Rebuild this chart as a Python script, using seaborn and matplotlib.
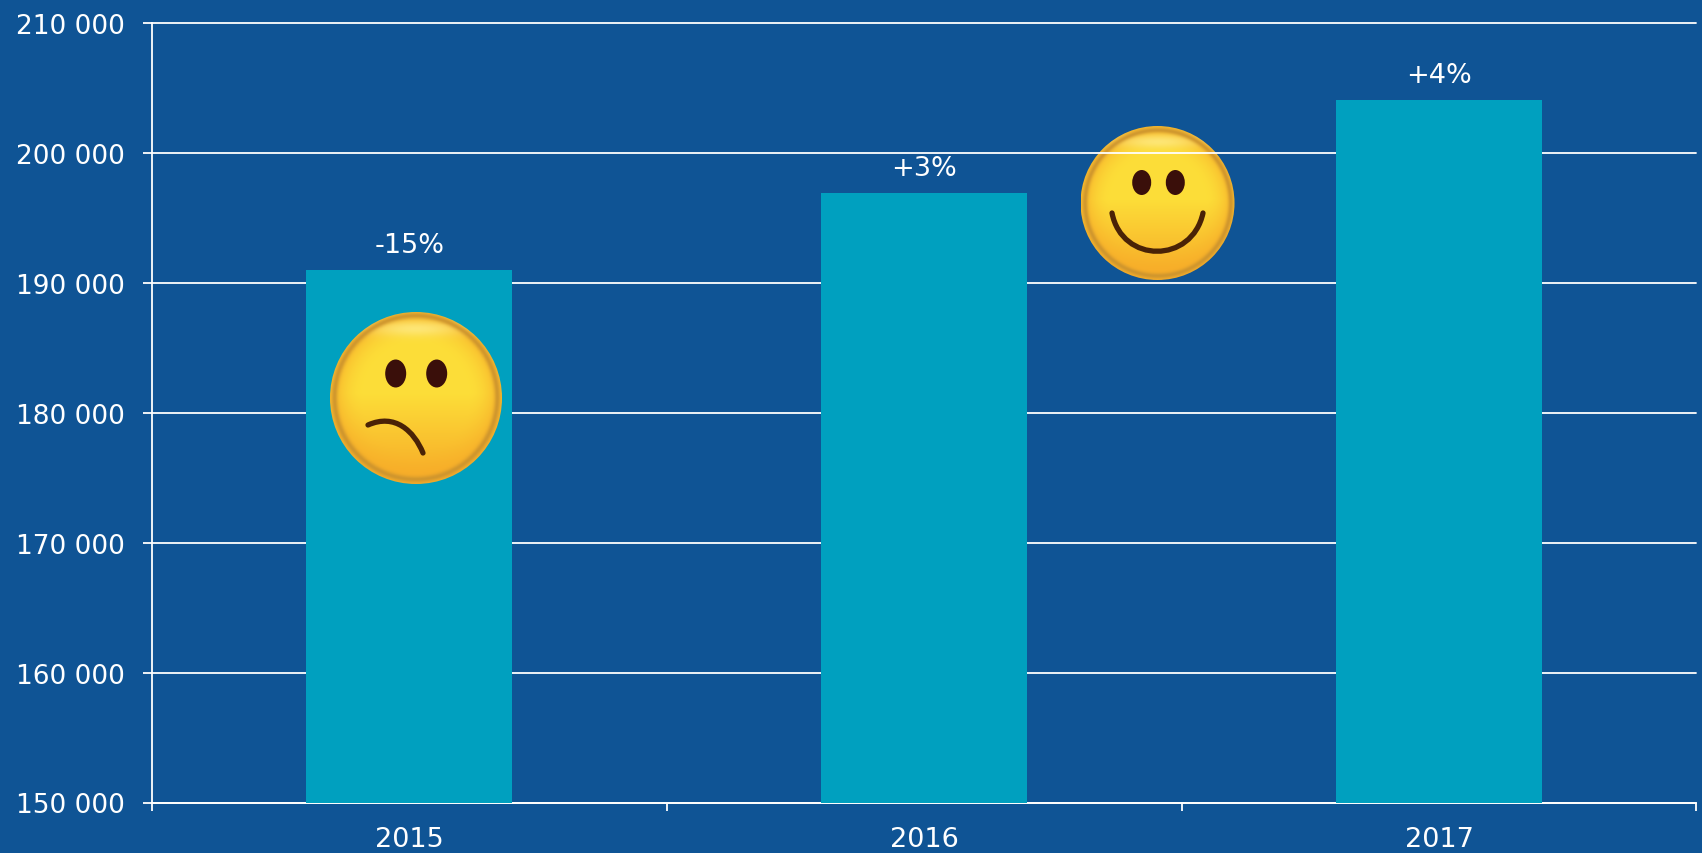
import numpy as np
import pandas as pd
import matplotlib.pyplot as plt
import seaborn as sns
from matplotlib.patches import Circle, Ellipse, PathPatch
from matplotlib.path import Path

years = ["2015", "2016", "2017"]
values = [191000, 196900, 204100]
changes = ["-15%", "+3%", "+4%"]
y_ticks = [150000, 160000, 170000, 180000, 190000, 200000, 210000]
y_tick_labels = ["150 000", "160 000", "170 000", "180 000", "190 000", "200 000", "210 000"]

BG = "#0F5495"
BAR = "#00A0BF"
W, H = 1702, 854


def dibujar_cara(ax_px, cx, cy, r, eyes, eye_w, eye_h, mouth_path):
    """Emoji dibujado en coordenadas de pixel de la figura."""
    n = 300
    yy, xx = np.mgrid[-1:1:n * 1j, -1:1:n * 1j]
    d = np.sqrt(xx ** 2 + yy ** 2)
    top = np.array([0.99, 0.87, 0.22])
    low = np.array([0.97, 0.68, 0.16])
    t = np.clip((yy + 0.05) / 0.95, 0, 1)[..., None]
    side = (np.clip((d - 0.6) / 0.35, 0, 1) ** 2)[..., None]
    rgb = top * (1 - t) + low * t
    rgb = rgb * (1 - side * 0.75) + low * side * 0.75
    # brillo suave arriba
    glow = np.exp(-((xx / 0.55) ** 2 + ((yy + 0.8) / 0.09) ** 2))[..., None]
    rgb = rgb * (1 - glow * 0.6) + np.array([1.0, 0.95, 0.62]) * glow * 0.6
    # borde: anillo mas oscuro que se funde hacia dentro
    rim = np.exp(-((d - 0.95) / 0.035) ** 2)[..., None]
    rgb = rgb * (1 - rim * 0.9) + np.array([0.80, 0.58, 0.18]) * rim * 0.9
    im = ax_px.imshow(rgb, extent=(cx - r, cx + r, cy + r, cy - r),
                      zorder=5, interpolation="bilinear", aspect="auto")
    im.set_clip_path(Circle((cx, cy), r, transform=ax_px.transData))
    for ex, ey in eyes:
        ax_px.add_patch(Ellipse((ex, ey), eye_w, eye_h, color="#3A0F0A", lw=0, zorder=7))
    ax_px.add_patch(PathPatch(mouth_path, fill=False, edgecolor="#4A2206", lw=3.8,
                              capstyle="round", zorder=7))


def capa_pixeles(zorder):
    capa = fig.add_axes([0, 0, 1, 1], facecolor="none", zorder=zorder)
    capa.set_axis_off()
    return capa


sns.set_theme(style="white")
plt.rcParams["font.family"] = ["DejaVu Sans"]

df = pd.DataFrame({"year": years, "value": values})

fig = plt.figure(figsize=(W / 100, H / 100), dpi=100, facecolor=BG)
ax = fig.add_axes([152 / W, 1 - 803.5 / H, (1696.5 - 152) / W, (803.5 - 24) / H],
                  facecolor="none", zorder=2)

sns.barplot(data=df, x="year", y="value", color=BAR, saturation=1, width=0.4,
            edgecolor="none", linewidth=0, ax=ax, zorder=3)

ax.set_xlim(-0.5, 2.5)
ax.set_ylim(150000, 210000)
ax.set_yticks(y_ticks)
ax.set_yticklabels(y_tick_labels)
ax.set_xlabel("")
ax.set_ylabel("")

ax.grid(axis="y", color="white", linewidth=1.3, zorder=1, clip_on=False)
ax.set_axisbelow(True)
for lado in ["top", "right"]:
    ax.spines[lado].set_visible(False)
for lado in ["left", "bottom"]:
    ax.spines[lado].set_color("white")
    ax.spines[lado].set_linewidth(1.3)

# las marcas del eje x van entre categorias, los textos sin marca
ax.set_xticks([-0.5, 0.5, 1.5, 2.5], minor=True)
ax.tick_params(axis="x", which="minor", length=6, width=1.3, color="white", bottom=True)
ax.tick_params(axis="x", which="major", length=0, labelsize=19.5, labelcolor="white", pad=17)
ax.tick_params(axis="y", length=6.5, width=1.3, color="white", left=True,
               labelsize=19, labelcolor="white", pad=13.2)

ax.bar_label(ax.containers[0], labels=changes, color="white", fontsize=19.5, padding=8.5)

# la cara feliz queda detras de la rejilla, la triste delante de la barra
ax_fondo = capa_pixeles(1)
ax_frente = capa_pixeles(3)

triste = Path([(368, 426), (395, 414), (414, 432), (423, 454)],
              [Path.MOVETO, Path.CURVE4, Path.CURVE4, Path.CURVE4])
feliz = Path([(1112, 214), (1122, 265), (1192, 265), (1203, 214)],
             [Path.MOVETO, Path.CURVE4, Path.CURVE4, Path.CURVE4])

dibujar_cara(ax_frente, 416, 399, 86, [(395.7, 374.5), (436.7, 374.5)], 21, 28, triste)
dibujar_cara(ax_fondo, 1157.5, 204, 77, [(1141.7, 183.5), (1175.3, 183.5)], 19, 25, feliz)

for capa in (ax_fondo, ax_frente):
    capa.set_xlim(0, W)
    capa.set_ylim(H, 0)

fig.savefig("out.png", dpi=100, facecolor=BG)
